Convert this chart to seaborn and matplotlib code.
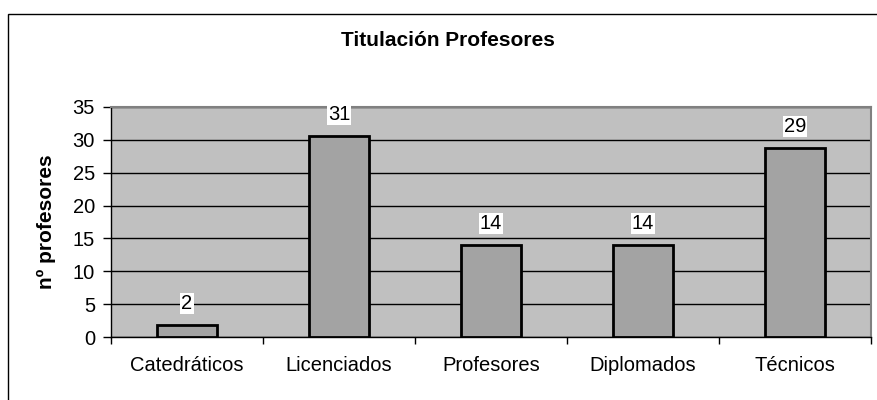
import matplotlib
matplotlib.use('Agg')
import matplotlib.pyplot as plt
import matplotlib.patches as mpatches
import seaborn as sns

# datos
categorias = ['Catedráticos', 'Licenciados', 'Profesores', 'Diplomados', 'Técnicos']
profesores = [1.9, 30.6, 14.0, 14.0, 28.7]
y_ticks = [0, 5, 10, 15, 20, 25, 30, 35]

sns.set_theme(style='white')
plt.rcParams['font.family'] = ['Liberation Sans', 'DejaVu Sans']
plt.rcParams['text.color'] = 'black'

fig = plt.figure(figsize=(8.78, 4.0), dpi=100)
ax = fig.add_axes([111 / 878, 1 - 337.3 / 400, 760 / 878, 230.6 / 400])
ax.set_facecolor('#C0C0C0')

sns.barplot(x=categorias, y=profesores, color='#A3A3A3', saturation=1,
            edgecolor='black', linewidth=2, width=0.4, ax=ax, zorder=3)

ax.set_xlim(-0.5, 4.5)
ax.set_ylim(0, 35)
ax.set_yticks(y_ticks)
ax.set_yticklabels([str(t) for t in y_ticks], fontsize=14.5, color='black')
ax.grid(axis='y', color='black', linewidth=1)
ax.grid(axis='x', visible=False)
ax.set_axisbelow(True)

# marcas del eje x entre categorías
ax.set_xticks([i - 0.5 for i in range(len(categorias) + 1)], minor=True)
ax.tick_params(axis='x', which='major', length=0, pad=13.5, labelsize=14.5, labelcolor='black')
ax.tick_params(axis='x', which='minor', length=5, width=1, color='black', direction='out', bottom=True)
ax.tick_params(axis='y', which='major', length=5.5, width=1, color='black', direction='out', left=True, pad=6)
ax.set_xlabel('')
ax.set_ylabel('')

for side in ['left', 'bottom']:
    ax.spines[side].set_color('black')
    ax.spines[side].set_linewidth(1)
for side in ['top', 'right']:
    ax.spines[side].set_color('#808080')
    ax.spines[side].set_linewidth(1.5)

# etiquetas de datos
for i, v in enumerate(profesores):
    ax.annotate(f'{v:.0f}', xy=(i, v), xytext=(0, 8.5), textcoords='offset points',
                ha='center', va='bottom', fontsize=14.5, color='black', zorder=5,
                bbox=dict(boxstyle='square,pad=0.05', fc='white', ec='none'))

fig.text(448 / 878, 1 - 41 / 400, 'Titulación Profesores', ha='center', va='center',
         fontsize=15, fontweight='bold', color='black')
fig.text(46.7 / 878, 1 - 222 / 400, 'nº profesores', ha='center', va='center',
         rotation=90, fontsize=15, fontweight='bold', color='black')

# borde exterior del gráfico
borde = mpatches.Rectangle((8 / 878, -0.2), 1.2, 1.2 - 14 / 400, transform=fig.transFigure,
                           fill=False, edgecolor='black', linewidth=1, clip_on=False)
fig.patches.append(borde)

fig.savefig('out.png', dpi=100)
